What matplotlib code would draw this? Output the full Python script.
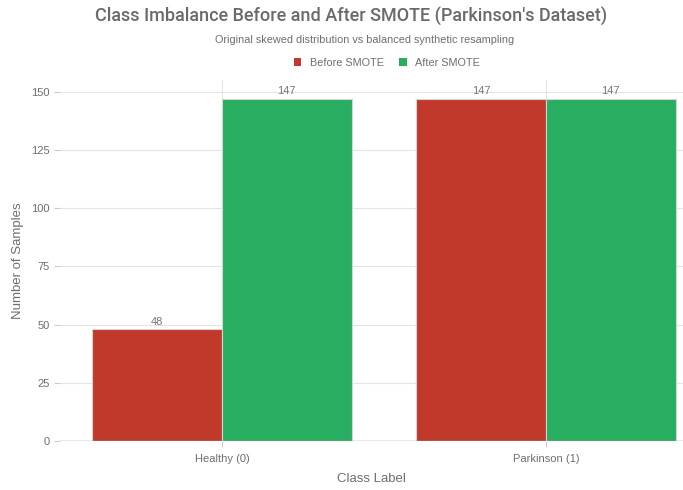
import matplotlib
matplotlib.use("Agg")
import matplotlib.pyplot as plt
import numpy as np
from matplotlib.patches import Patch

plt.rcParams['font.family'] = ['Liberation Sans', 'DejaVu Sans']

classes = ["Healthy (0)", "Parkinson (1)"]
before_smote = [48, 147]
after_smote = [147, 147]
series_names = ["Before SMOTE", "After SMOTE"]
series_colors = ["#C0392B", "#27AE60"]
y_ticks = [0, 25, 50, 75, 100, 125, 150]

fig = plt.figure(figsize=(6.83, 4.90), dpi=100)
ax = fig.add_axes([60 / 683, 49 / 490, 623 / 683, 361 / 490])

x = np.arange(len(classes))
width = 0.4
for vals, off, name, col in zip([before_smote, after_smote], [-width / 2, width / 2],
                                series_names, series_colors):
    bars = ax.bar(x + off, vals, width, color=col, edgecolor="#d4d4d4",
                  linewidth=0.8, zorder=3, label=name)
    for b, v in zip(bars, vals):
        ax.text(b.get_x() + b.get_width() / 2, v + 1.0, f"{v}", ha="center",
                va="bottom", fontsize=8, color="#777777", zorder=4)

ax.set_xlim(-0.5, 1.423)
ax.set_ylim(0, 155)
ax.set_yticks(y_ticks)
ax.set_xticks(x)
ax.set_xticklabels(classes)
ax.grid(True, axis="both", color="#e4e4e4", linewidth=0.8, zorder=0)
ax.axhline(0, color="#9a9a9a", linewidth=1.0, zorder=5)
for s in ax.spines.values():
    s.set_visible(False)
ax.tick_params(axis="both", colors="#cccccc", labelcolor="#6e6e6e", labelsize=8,
               length=4, width=0.8)
ax.tick_params(axis="x", pad=5)

ax.set_ylabel("Number of Samples", fontsize=9.5, color="#6e6e6e", labelpad=5)
ax.set_xlabel("Class Label", fontsize=9.5, color="#6e6e6e", labelpad=7)

fig.text(351 / 683, 1 - 16 / 490, "Class Imbalance Before and After SMOTE (Parkinson's Dataset)",
         ha="center", va="center", fontsize=13, fontweight="medium", color="#6a6a6a",
         family=["Roboto", "DejaVu Sans"])
fig.text(365 / 683, 1 - 40 / 490, "Original skewed distribution vs balanced synthetic resampling",
         ha="center", va="center", fontsize=7.8, color="#6e6e6e")

handles = [Patch(facecolor=c, edgecolor="none", label=n) for n, c in zip(series_names, series_colors)]
fig.legend(handles=handles, loc="center", bbox_to_anchor=(387 / 683, 1 - 63 / 490), ncol=2,
           frameon=False, fontsize=7.8, labelcolor="#6e6e6e", handlelength=0.7,
           handleheight=0.7, handletextpad=0.8, columnspacing=1.4)

fig.savefig("out.png", dpi=100)
